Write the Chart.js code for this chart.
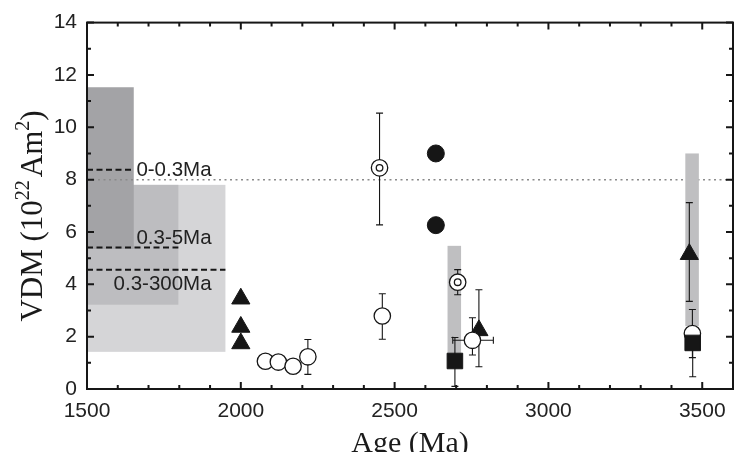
<!DOCTYPE html>
<html>
<head>
<meta charset="utf-8">
<script src="https://cdn.jsdelivr.net/npm/chart.js@4.4.1/dist/chart.umd.min.js"></script>
<style>
  html, body { margin: 0; padding: 0; background: #fff; overflow: hidden; }
  #wrap { width: 737px; height: 452px; overflow: hidden; }
</style>
</head>
<body>
<div id="wrap"><canvas id="vdmChart" width="745" height="452"></canvas></div>
<script>
// tick labels
const xTickValues = [1500, 2000, 2500, 3000, 3500];
const yTickValues = [0, 2, 4, 6, 8, 10, 12, 14];

// filled triangles
const triAge = [2000, 2000, 2000, 2774, 3458];
const triVdm = [3.45, 2.37, 1.74, 2.24, 5.15];
const triLow = [null, null, null, 0.85, 3.35];
const triHigh = [null, null, null, 3.79, 7.12];

// open circles
const circAge = [2080, 2122, 2170, 2218, 2460, 2753, 3468];
const circVdm = [1.06, 1.03, 0.87, 1.23, 2.79, 1.86, 2.12];
const circLow = [null, null, null, 0.56, 1.90, 1.30, 1.20];
const circHigh = [null, null, null, 1.89, 3.64, 2.72, 3.04];
const circAgeLow = [null, null, null, null, null, 2689, null];
const circAgeHigh = [null, null, null, null, null, 2821, null];

// open circles with a centre ring
const ringAge = [2451, 2705];
const ringVdm = [8.45, 4.08];
const ringLow = [6.27, 3.60];
const ringHigh = [10.54, 4.56];

// filled circles
const dotAge = [2634, 2634];
const dotVdm = [9.0, 6.26];

// filled squares
const sqAge = [2696, 3469];
const sqVdm = [1.07, 1.76];
const sqLow = [0.10, 0.47];
const sqHigh = [1.97, null];

// grey vertical bands
const bandAgeFrom = [2672, 3445];
const bandAgeTo = [2716, 3489];
const bandLow = [1.1, 2.4];
const bandHigh = [5.47, 9.0];

// recent field ranges
const boxNames = ['0-0.3Ma', '0.3-5Ma', '0.3-300Ma'];
const boxAgeTo = [1652, 1797, 1950];
const boxLow = [5.35, 3.22, 1.42];
const boxHigh = [11.53, 7.8, 7.8];
const boxMean = [8.38, 5.41, 4.56];
const presentVdm = 8.0;

const ink = '#161616';
const boxFill = ['#a3a3a6', '#bdbdc0', '#d5d5d7'];
const labelAge = 1905;

function pts(xs, ys) {
    return xs.map((v, i) => ({ x: v, y: ys[i] }));
}

// vertical error bar with caps
function vBar(ctx, x, y, xv, lo, hi) {
    if (lo === null && hi === null) return;
    const px = x.getPixelForValue(xv);
    const y0 = y.getPixelForValue(lo);
    const y1 = y.getPixelForValue(hi);
    ctx.beginPath();
    ctx.moveTo(px, y0); ctx.lineTo(px, y1);
    ctx.moveTo(px - 3.5, y0); ctx.lineTo(px + 3.5, y0);
    ctx.moveTo(px - 3.5, y1); ctx.lineTo(px + 3.5, y1);
    ctx.stroke();
}

const framePlugin = {
    id: 'framePlugin',
    beforeDatasetsDraw(chart) {
        const { ctx, chartArea: a, scales: { x, y } } = chart;
        ctx.save();
        const xl = x.getPixelForValue(x.min);

        // range boxes, widest first
        for (let i = boxNames.length - 1; i >= 0; i--) {
            const top = y.getPixelForValue(boxHigh[i]);
            const bot = y.getPixelForValue(boxLow[i]);
            ctx.fillStyle = boxFill[i];
            ctx.fillRect(xl, top, x.getPixelForValue(boxAgeTo[i]) - xl, bot - top);
        }

        // present-day field
        ctx.strokeStyle = '#8a8a8a';
        ctx.lineWidth = 1.5;
        ctx.setLineDash([2, 3.5]);
        ctx.beginPath();
        ctx.moveTo(xl, y.getPixelForValue(presentVdm));
        ctx.lineTo(a.right, y.getPixelForValue(presentVdm));
        ctx.stroke();
        ctx.setLineDash([]);

        // grey bands
        ctx.fillStyle = '#bfbfc1';
        bandAgeFrom.forEach((v, i) => {
            const x0 = x.getPixelForValue(v);
            const x1 = x.getPixelForValue(bandAgeTo[i]);
            const top = y.getPixelForValue(bandHigh[i]);
            ctx.fillRect(x0, top, x1 - x0, y.getPixelForValue(bandLow[i]) - top);
        });

        // mean lines and names
        ctx.strokeStyle = ink;
        ctx.lineWidth = 2;
        ctx.setLineDash([6, 3.5]);
        ctx.font = '20.5px "Liberation Sans", Arial, sans-serif';
        ctx.fillStyle = '#222';
        ctx.textAlign = 'right';
        const lx = x.getPixelForValue(labelAge);
        boxMean.forEach((m, i) => {
            const py = y.getPixelForValue(m);
            ctx.beginPath();
            ctx.moveTo(xl, py);
            ctx.lineTo(x.getPixelForValue(boxAgeTo[i]), py);
            ctx.stroke();
            if (i === 0) { ctx.textBaseline = 'middle'; ctx.fillText(boxNames[i], lx, py + 1); }
            if (i === 1) { ctx.textBaseline = 'alphabetic'; ctx.fillText(boxNames[i], lx, py - 3); }
            if (i === 2) { ctx.textBaseline = 'alphabetic'; ctx.fillText(boxNames[i], lx, py + 20); }
        });
        ctx.setLineDash([]);

        // error bars
        ctx.strokeStyle = ink;
        ctx.lineWidth = 1.1;
        triAge.forEach((v, i) => vBar(ctx, x, y, v, triLow[i], triHigh[i]));
        circAge.forEach((v, i) => vBar(ctx, x, y, v, circLow[i], circHigh[i]));
        ringAge.forEach((v, i) => vBar(ctx, x, y, v, ringLow[i], ringHigh[i]));
        sqAge.forEach((v, i) => vBar(ctx, x, y, v, sqLow[i], sqHigh[i] === null ? sqVdm[i] : sqHigh[i]));
        circAgeLow.forEach((v, i) => {
            if (v === null) return;
            const py = y.getPixelForValue(circVdm[i]);
            const x0 = x.getPixelForValue(v);
            const x1 = x.getPixelForValue(circAgeHigh[i]);
            ctx.beginPath();
            ctx.moveTo(x0, py); ctx.lineTo(x1, py);
            ctx.moveTo(x0, py - 3.5); ctx.lineTo(x0, py + 3.5);
            ctx.moveTo(x1, py - 3.5); ctx.lineTo(x1, py + 3.5);
            ctx.stroke();
        });
        ctx.restore();
    },
    afterDraw(chart) {
        const { ctx, chartArea: a, scales: { x, y } } = chart;
        ctx.save();
        ctx.strokeStyle = ink;
        ctx.lineWidth = 2;
        ctx.strokeRect(a.left, a.top, a.right - a.left, a.bottom - a.top);

        // inward ticks on all four sides
        ctx.beginPath();
        for (let v = x.min; v <= x.max; v += 100) {
            const px = x.getPixelForValue(v);
            const len = v % 500 === 0 ? 7 : 4;
            ctx.moveTo(px, a.bottom); ctx.lineTo(px, a.bottom - len);
            ctx.moveTo(px, a.top); ctx.lineTo(px, a.top + len);
        }
        for (let v = y.min; v <= y.max; v += 1) {
            const py = y.getPixelForValue(v);
            const len = v % 2 === 0 ? 7 : 4;
            ctx.moveTo(a.left, py); ctx.lineTo(a.left + len, py);
            ctx.moveTo(a.right, py); ctx.lineTo(a.right - len, py);
        }
        ctx.stroke();

        // axis titles
        ctx.fillStyle = '#1a1a1a';
        ctx.textAlign = 'center';
        ctx.textBaseline = 'alphabetic';
        ctx.font = '30px "Liberation Serif", "Times New Roman", serif';
        ctx.fillText('Age (Ma)', (a.left + a.right) / 2, 452);

        const parts = [['VDM (10', 31, 0, 0], ['22', 20, -13, 3], ['Am', 31, 0, 0], ['2', 20, -13, 0], [')', 31, 0, 0]];
        let total = 0;
        parts.forEach(p => {
            ctx.font = p[1] + 'px "Liberation Serif", "Times New Roman", serif';
            total += ctx.measureText(p[0]).width + p[3];
        });
        ctx.translate(42, 216);
        ctx.rotate(-Math.PI / 2);
        ctx.textAlign = 'left';
        let cx = -total / 2;
        parts.forEach(p => {
            ctx.font = p[1] + 'px "Liberation Serif", "Times New Roman", serif';
            ctx.fillText(p[0], cx, p[2]);
            cx += ctx.measureText(p[0]).width + p[3];
        });
        ctx.restore();
    }
};

Chart.defaults.font.family = '"Liberation Sans", Arial, sans-serif';

new Chart(document.getElementById('vdmChart'), {
    type: 'scatter',
    data: {
        datasets: [
            { label: 'squares', data: pts(sqAge, sqVdm), order: 0, pointStyle: 'rect', pointRadius: 11,
              backgroundColor: ink, borderColor: ink, borderWidth: 1 },
            { label: 'open circles', data: pts(circAge, circVdm), order: 1, pointStyle: 'circle', pointRadius: 8.2,
              backgroundColor: '#fff', borderColor: ink, borderWidth: 1.3 },
            { label: 'triangles', data: pts(triAge, triVdm), order: 2, pointStyle: 'triangle', pointRadius: 10.5,
              backgroundColor: ink, borderColor: ink, borderWidth: 1 },
            { label: 'ring centre', data: pts(ringAge, ringVdm), order: 3, pointStyle: 'circle', pointRadius: 3.3,
              backgroundColor: '#fff', borderColor: ink, borderWidth: 1.3 },
            { label: 'rings', data: pts(ringAge, ringVdm), order: 4, pointStyle: 'circle', pointRadius: 8.2,
              backgroundColor: '#fff', borderColor: ink, borderWidth: 1.3 },
            { label: 'filled circles', data: pts(dotAge, dotVdm), order: 5, pointStyle: 'circle', pointRadius: 8.5,
              backgroundColor: ink, borderColor: ink, borderWidth: 1 }
        ]
    },
    options: {
        responsive: false,
        animation: false,
        layout: { padding: { top: 21, right: 5, left: 0, bottom: 0 } },
        plugins: { legend: { display: false }, tooltip: { enabled: false } },
        scales: {
            x: {
                type: 'linear', min: 1500, max: 3600,
                grid: { display: false, drawTicks: false },
                border: { display: false },
                afterBuildTicks: s => { s.ticks = xTickValues.map(v => ({ value: v })); },
                afterFit: s => { s.height = 63; },
                ticks: { padding: 10, color: '#222', font: { size: 21 }, maxRotation: 0, autoSkip: false,
                         callback: v => String(v) }
            },
            y: {
                type: 'linear', min: 0, max: 14,
                grid: { display: false, drawTicks: false },
                border: { display: false },
                afterBuildTicks: s => { s.ticks = yTickValues.map(v => ({ value: v })); },
                afterFit: s => { s.width = 87; },
                ticks: { padding: 10, color: '#222', font: { size: 21 }, autoSkip: false,
                         callback: v => String(v) }
            }
        }
    },
    plugins: [framePlugin]
});
</script>
</body>
</html>
